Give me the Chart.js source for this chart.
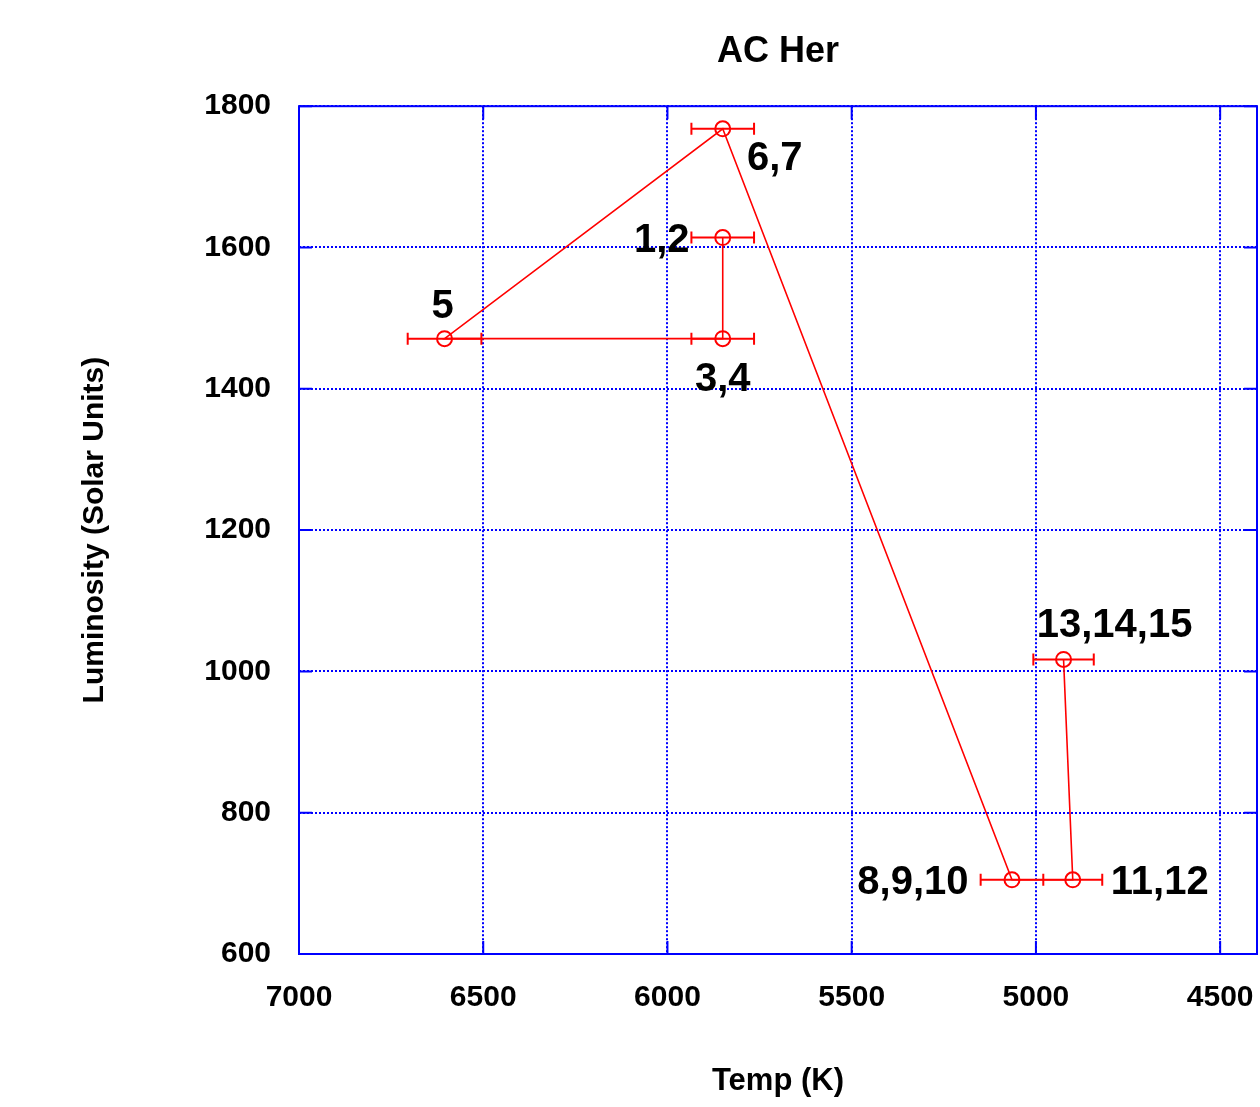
<!DOCTYPE html>
<html>
<head>
<meta charset="utf-8">
<title>AC Her</title>
<script src="https://cdn.jsdelivr.net/npm/chart.js@4.4.1/dist/chart.umd.min.js"></script>
<style>
  html, body { margin: 0; padding: 0; background: #fff; }
  #wrap { width: 1260px; height: 1107px; }
</style>
</head>
<body>
<div id="wrap"><canvas id="hrChart" width="1260" height="1107"></canvas></div>
<script>
// data, in the order the track is drawn
const pointLabels = ['1,2', '3,4', '5', '6,7', '8,9,10', '11,12', '13,14,15'];
const temps = [5850, 5850, 6605, 5850, 5065, 4900, 4925];
const lums = [1614, 1471, 1471, 1768, 705, 705, 1017];
const tempErrs = [85, 85, 100, 85, 85, 80, 82];

const xTicks = [7000, 6500, 6000, 5500, 5000, 4500];
const yTicks = [600, 800, 1000, 1200, 1400, 1600, 1800];

const FONT = "'Liberation Sans', Arial, sans-serif";
const BLUE = '#0000ff';
const RED = '#ff0000';

// where each point label sits relative to its point (px)
const labelOffsets = [
    [-61, 0], [0, 38], [-2, -35], [52, 27], [-99, 0], [87, 0], [51, -37]
];

// frame round the plot area plus inward tick marks on all four sides
const framePlugin = {
    id: 'frame',
    beforeDatasetsDraw(chart) {
        const { ctx, chartArea: a, scales } = chart;
        const len = 13;
        ctx.save();
        ctx.strokeStyle = BLUE;
        ctx.lineWidth = 2;
        ctx.beginPath();
        xTicks.forEach(v => {
            const px = scales.x.getPixelForValue(v);
            ctx.moveTo(px, a.bottom); ctx.lineTo(px, a.bottom - len);
            ctx.moveTo(px, a.top); ctx.lineTo(px, a.top + len);
        });
        yTicks.forEach(v => {
            const py = scales.y.getPixelForValue(v);
            ctx.moveTo(a.left, py); ctx.lineTo(a.left + len, py);
            ctx.moveTo(a.right, py); ctx.lineTo(a.right - len, py);
        });
        ctx.stroke();
        ctx.strokeRect(a.left, a.top, a.right - a.left, a.bottom - a.top);
        ctx.restore();
    }
};

// horizontal temperature error bars
const errorBarPlugin = {
    id: 'errorBars',
    beforeDatasetsDraw(chart) {
        const { ctx, scales } = chart;
        const cap = 6;
        ctx.save();
        ctx.strokeStyle = RED;
        ctx.lineWidth = 2;
        ctx.beginPath();
        temps.forEach((t, i) => {
            const x1 = scales.x.getPixelForValue(t - tempErrs[i]);
            const x2 = scales.x.getPixelForValue(t + tempErrs[i]);
            const y = scales.y.getPixelForValue(lums[i]);
            ctx.moveTo(x1, y); ctx.lineTo(x2, y);
            ctx.moveTo(x1, y - cap); ctx.lineTo(x1, y + cap);
            ctx.moveTo(x2, y - cap); ctx.lineTo(x2, y + cap);
        });
        ctx.stroke();
        ctx.restore();
    }
};

// phase labels next to the points
const pointLabelPlugin = {
    id: 'pointLabels',
    afterDatasetsDraw(chart) {
        const { ctx } = chart;
        const meta = chart.getDatasetMeta(0);
        const size = 40;
        ctx.save();
        ctx.font = 'bold ' + size + 'px ' + FONT;
        ctx.fillStyle = '#000';
        ctx.textAlign = 'center';
        ctx.textBaseline = 'alphabetic';
        meta.data.forEach((pt, i) => {
            const [dx, dy] = labelOffsets[i];
            ctx.fillText(pointLabels[i], pt.x + dx, pt.y + dy + size * 0.36);
        });
        ctx.restore();
    }
};

const gridCommon = {
    color: BLUE,
    lineWidth: 2,
    drawTicks: false
};

new Chart(document.getElementById('hrChart'), {
    type: 'scatter',
    data: {
        datasets: [{
            data: temps.map((t, i) => ({ x: t, y: lums[i] })),
            showLine: true,
            borderColor: RED,
            borderWidth: 1.6,
            pointRadius: 7.5,
            pointBorderWidth: 2,
            pointBorderColor: RED,
            pointBackgroundColor: 'rgba(255,255,255,0)',
            tension: 0
        }]
    },
    options: {
        responsive: false,
        animation: false,
        layout: { autoPadding: false, padding: { left: 77, right: 3, top: 0, bottom: 7 } },
        plugins: {
            legend: { display: false },
            tooltip: { enabled: false },
            title: {
                display: true,
                fullSize: false,
                text: 'AC Her',
                color: '#000',
                font: { family: FONT, size: 36, weight: 'bold' },
                padding: { top: 30, bottom: 33 }
            }
        },
        scales: {
            x: {
                type: 'linear',
                reverse: true,
                min: 4400,
                max: 7000,
                afterBuildTicks: s => { s.ticks = xTicks.map(v => ({ value: v })); },
                afterFit: s => { s.height = 146; s.paddingLeft = 0; s.paddingRight = 0; },
                grid: gridCommon,
                border: { display: false, dash: [2, 2] },
                ticks: {
                    color: '#000',
                    padding: 26,
                    maxRotation: 0,
                    callback: v => String(v),
                    font: { family: FONT, size: 30, weight: 'bold' }
                },
                title: {
                    display: true,
                    text: 'Temp (K)',
                    color: '#000',
                    padding: { top: 0, bottom: 0 },
                    font: { family: FONT, size: 31, weight: 'bold' }
                }
            },
            y: {
                type: 'linear',
                min: 600,
                max: 1800,
                afterBuildTicks: s => { s.ticks = yTicks.map(v => ({ value: v })); },
                afterFit: s => { s.width = 222; },
                grid: gridCommon,
                border: { display: false, dash: [2, 2] },
                ticks: {
                    color: '#000',
                    padding: 28,
                    callback: v => String(v),
                    font: { family: FONT, size: 30, weight: 'bold' }
                },
                title: {
                    display: true,
                    text: 'Luminosity (Solar Units)',
                    color: '#000',
                    padding: { top: 0, bottom: 0 },
                    font: { family: FONT, size: 30, weight: 'bold' }
                }
            }
        }
    },
    plugins: [framePlugin, errorBarPlugin, pointLabelPlugin]
});
</script>
</body>
</html>
